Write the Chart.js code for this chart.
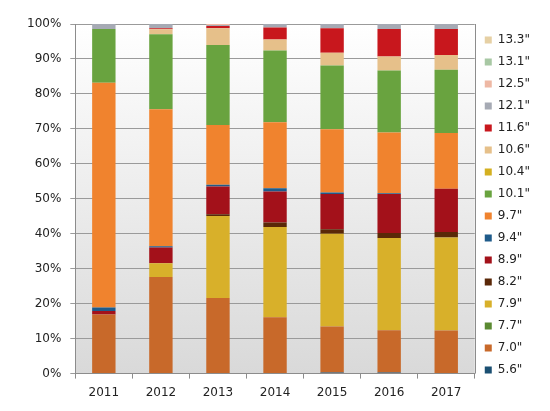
<!DOCTYPE html>
<html>
<head>
<meta charset="utf-8">
<script src="https://cdn.jsdelivr.net/npm/chart.js@4/dist/chart.umd.min.js"></script>
<style>
  html, body { margin: 0; padding: 0; background: #fff; }
  #wrap { width: 550px; height: 411px; }
</style>
</head>
<body>
<div id="wrap"><canvas id="screenChart"></canvas></div>
<script>
const years = ['2011', '2012', '2013', '2014', '2015', '2016', '2017'];

// share of each screen size per year (%), bottom of the stack first
const sizes = ['5.6"', '7.0"', '7.7"', '7.9"', '8.2"', '8.9"', '9.4"', '9.7"',
               '10.1"', '10.4"', '10.6"', '11.6"', '12.1"', '12.5"', '13.1"', '13.3"'];
const s5_6  = [0,    0,    0,    0,    0.3,  0.3,  0];
const s7_0  = [16.9, 27.6, 21.6, 16.1, 13.2, 12.1, 12.3];
const s7_7  = [0,    0,    0,    0,    0,    0,    0];
const s7_9  = [0,    4.0,  23.5, 25.8, 26.5, 26.4, 26.6];
const s8_2  = [0,    0,    0.5,  1.3,  1.3,  1.4,  1.6];
const s8_9  = [1.0,  4.5,  7.9,  8.9,  10.1, 11.2, 12.4];
const s9_4  = [1.0,  0.3,  0.5,  0.9,  0.4,  0.2,  0];
const s9_7  = [64.3, 39.2, 17.1, 18.9, 18.1, 17.4, 15.9];
const s10_1 = [15.4, 21.5, 22.9, 20.5, 18.2, 17.7, 18.1];
const s10_4 = [0,    0,    0,    0,    0,    0,    0];
const s10_6 = [0,    1.4,  4.8,  3.2,  3.7,  4.0,  4.2];
const s11_6 = [0,    0.3,  0.6,  3.4,  7.0,  7.9,  7.5];
const s12_1 = [1.4,  1.2,  0.3,  1.0,  1.2,  1.4,  1.4];
const s12_5 = [0,    0,    0.3,  0,    0,    0,    0];
const s13_1 = [0,    0,    0,    0,    0,    0,    0];
const s13_3 = [0,    0,    0,    0,    0,    0,    0];
const series = [s5_6, s7_0, s7_7, s7_9, s8_2, s8_9, s9_4, s9_7,
                s10_1, s10_4, s10_6, s11_6, s12_1, s12_5, s13_1, s13_3];
const colors = ['#1b4f72', '#c8692a', '#5b8a32', '#d8b02a', '#5a2808', '#a3111a', '#1f5b8a', '#f0832e',
                '#69a33f', '#d4b020', '#e6c08a', '#c8171d', '#a6aab4', '#eeb8a4', '#a8c8a4', '#e6d0a4'];
const yTicks = [0, 10, 20, 30, 40, 50, 60, 70, 80, 90, 100];

const plotFrame = {
    id: 'plotFrame',
    beforeDraw(chart) {
        const { ctx, chartArea: a } = chart;
        const g = ctx.createLinearGradient(0, a.top, 0, a.bottom);
        g.addColorStop(0, '#ffffff');
        g.addColorStop(1, '#d9d9d9');
        ctx.save();
        ctx.fillStyle = g;
        ctx.fillRect(a.left, a.top, a.right - a.left, a.bottom - a.top);
        ctx.restore();
    },
    afterDraw(chart) {
        const { ctx, chartArea: a } = chart;
        ctx.save();
        ctx.strokeStyle = '#8c8c8c';
        ctx.lineWidth = 1;
        ctx.beginPath();
        ctx.moveTo(Math.round(a.right) + 0.5, a.top);
        ctx.lineTo(Math.round(a.right) + 0.5, a.bottom);
        ctx.stroke();
        ctx.restore();
    }
};

Chart.defaults.font.family = '"DejaVu Sans", Verdana, sans-serif';
Chart.defaults.font.size = 12;
Chart.defaults.color = '#222';

const ctx = document.getElementById('screenChart').getContext('2d');
new Chart(ctx, {
    type: 'bar',
    data: {
        labels: years,
        datasets: sizes.map((s, i) => ({
            label: s,
            data: series[i],
            backgroundColor: colors[i],
            borderWidth: 0,
            categoryPercentage: 1,
            barPercentage: 0.41
        }))
    },
    options: {
        responsive: true,
        maintainAspectRatio: false,
        animation: false,
        layout: { padding: { left: 18, top: 24, right: 10, bottom: 4 } },
        plugins: {
            tooltip: { enabled: false },
            legend: {
                position: 'right',
                reverse: true,
                align: 'start',
                labels: {
                    boxWidth: 7,
                    boxHeight: 7,
                    padding: 10,
                    font: { size: 12, lineHeight: 0.98 }
                }
            }
        },
        scales: {
            x: {
                stacked: true,
                grid: { drawOnChartArea: false, drawTicks: true, tickLength: 5, color: '#8c8c8c', offset: true },
                border: { color: '#8c8c8c' },
                ticks: { padding: 7 }
            },
            y: {
                stacked: true,
                min: 0,
                max: 100,
                afterBuildTicks(axis) { axis.ticks = yTicks.map(v => ({ value: v })); },
                grid: { color: '#9a9a9a', tickLength: 5 },
                border: { color: '#8c8c8c' },
                ticks: { padding: 9, callback: v => v + '%' }
            }
        }
    },
    plugins: [plotFrame]
});
</script>
</body>
</html>
